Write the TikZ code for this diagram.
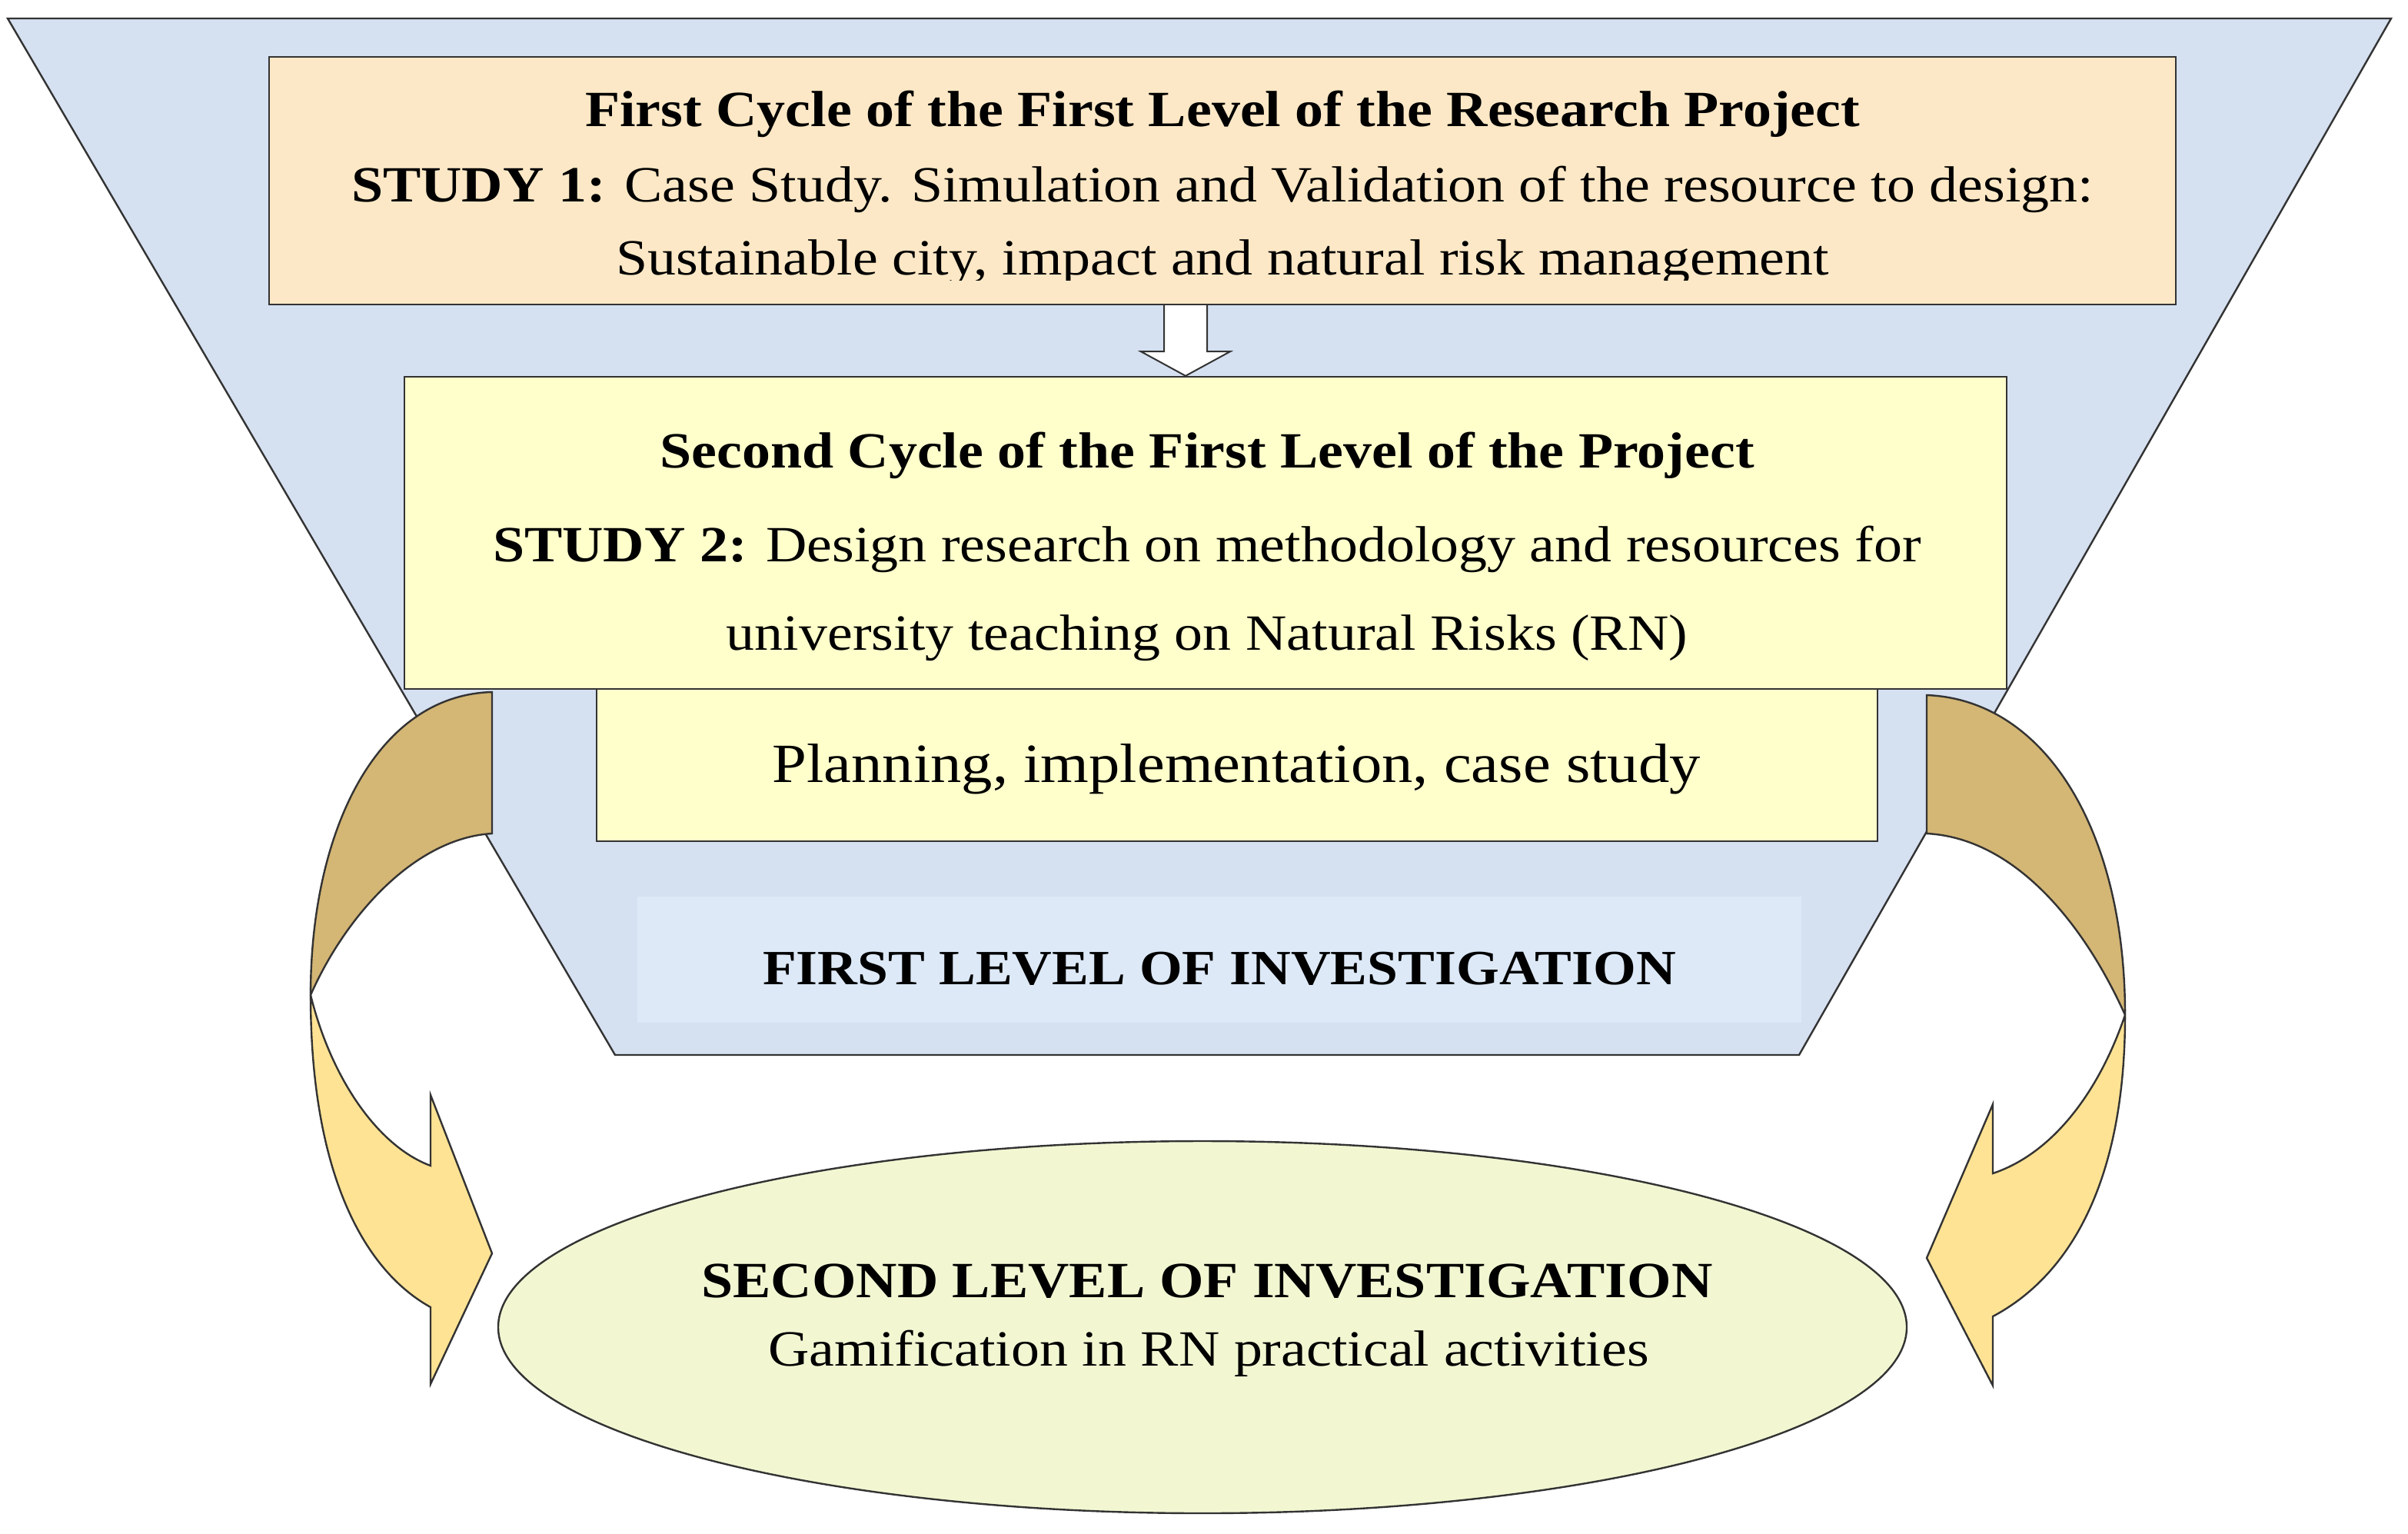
\documentclass[tikz,border=0pt]{standalone}
\usepackage{fontspec}
\setmainfont{Liberation Serif}[FakeStretch=1.12]
\begin{document}
\begin{tikzpicture}[x=1pt,y=-1pt,
  edge/.style={draw=black!80,line width=1.2pt},
  boxa/.style={edge,fill=peach,minimum width=1240pt,minimum height=161pt,inner sep=0pt},
  boxb/.style={edge,fill=lyel,inner sep=0pt},
  txt/.style={inner sep=0pt,font=\fontsize{33}{38}\selectfont},
  txtb/.style={txt,font=\fontsize{33}{38}\selectfont\bfseries}]
\definecolor{funnel}{HTML}{D5E0F1}
\definecolor{peach}{HTML}{FCE8C6}
\definecolor{lyel}{HTML}{FFFFCC}
\definecolor{lvl}{HTML}{DDE9F7}
\definecolor{ell}{HTML}{F2F7D2}
\definecolor{brown}{HTML}{D4B675}
\definecolor{yel}{HTML}{FFE394}
\useasboundingbox (0,0) rectangle (1566,997);
% funnel
\draw[edge,fill=funnel] (5,12) -- (1555,12) -- (1170,686) -- (400,686) -- cycle;
\node[fill=lvl,minimum width=757pt,minimum height=82pt,inner sep=0pt] (lvl) at (793,624) {};
\node[txtb,font=\fontsize{32}{36}\selectfont\bfseries] (lvlt) at (793,630) {FIRST LEVEL OF INVESTIGATION};
% box 1
\node[boxa] (b1) at (795,117.5) {};
\begin{scope}
\clip (176,38) rectangle (1414,182);
\node[txtb] (b1a) at (795,74) {First Cycle of the First Level of the Research Project};
\node[txt] (b1b) at (795,123) {\textbf{STUDY 1:} Case Study. Simulation and Validation of the resource to design:};
\node[txt] (b1c) at (795,171) {Sustainable city, impact and natural risk management};
\end{scope}
% box 2
\node[boxb,minimum width=1042pt,minimum height=203pt] (b2) at (784,346.5) {};
% down arrow
\draw[edge,line width=1pt,fill=white] ([xshift=-38pt]b1.south) -- ([xshift=-38pt,yshift=-30pt]b1.south)
  -- ([xshift=-53pt,yshift=-30pt]b1.south) -- ([xshift=771-784pt]b2.north)
  -- ([xshift=5pt,yshift=-30pt]b1.south) -- ([xshift=-10pt,yshift=-30pt]b1.south) -- ([xshift=-10pt]b1.south);
% box 3
\node[boxb,minimum width=833pt,minimum height=99pt] (b3) at (804.5,497.5) {};
\node[txt,font=\fontsize{36}{40}\selectfont] (b3t) at (804,500) {Planning, implementation, case study};
% box 2 text
\node[txtb] (b2a) at (785,296) {Second Cycle of the First Level of the Project};
\node[txt] (b2b) at (785,357) {\textbf{STUDY 2:} Design research on methodology and resources for};
\node[txt] (b2c) at (785,415) {university teaching on Natural Risks (RN)};
% left curved arrow
\draw[edge,fill=brown] (320,450) .. controls (245,452) and (202,540) .. (202,647)
  .. controls (225,595) and (270,545) .. (320,542) -- cycle;
\draw[edge,fill=yel] (202,647) .. controls (202,760) and (235,825) .. (280,850)
  -- (280,900) -- (320,815) -- (280,712) -- (280,758) .. controls (245,745) and (215,700) .. (202,647) -- cycle;
% right curved arrow
\draw[edge,fill=brown] (1253,452) .. controls (1330,455) and (1382,540) .. (1382,660)
  .. controls (1355,600) and (1310,545) .. (1253,542) -- cycle;
\draw[edge,fill=yel] (1382,660) .. controls (1382,770) and (1345,830) .. (1296,856)
  -- (1296,901) -- (1253,818) -- (1296,718) -- (1296,763) .. controls (1335,750) and (1365,710) .. (1382,660) -- cycle;
% ellipse
\draw[edge,fill=ell] (782,863) ellipse [x radius=458, y radius=121];
\node[txtb] (e1) at (785,833) {SECOND LEVEL OF INVESTIGATION};
\node[txt] (e2) at (786,880) {Gamification in RN practical activities};
\end{tikzpicture}
\end{document}
